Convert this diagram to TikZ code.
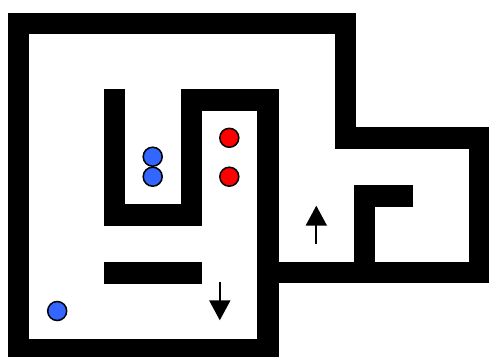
\documentclass[tikz,border=0pt]{standalone}
\usetikzlibrary{arrows.meta}
\definecolor{ballblue}{RGB}{51,102,255}
\definecolor{ballred}{RGB}{255,0,0}
\tikzset{
  wall/.style={fill=black,draw=none},
  ball/.style={circle,draw=black,line width=1.5pt,minimum size=19pt,inner sep=0pt},
  bluebal/.style={ball,fill=ballblue},
  redbal/.style={ball,fill=ballred},
  dirarrow/.style={line width=2pt,-{Triangle[width=21pt,length=20pt]}}
}
\begin{document}
\begin{tikzpicture}[x=1pt,y=-1pt]
\useasboundingbox (0,0) rectangle (489,356);
\clip (0,0) rectangle (489,356);
% walls
\fill[wall] (8,12.7) rectangle (29.3,360);
\fill[wall] (8,12.7) rectangle (356,34);
\fill[wall] (334.7,12.7) rectangle (356,149.3);
\fill[wall] (334.7,127.3) rectangle (492,149.3);
\fill[wall] (469.3,127.3) rectangle (492,283.3);
\fill[wall] (257.3,262.3) rectangle (492,283.3);
\fill[wall] (257.3,89.3) rectangle (279.3,360);
\fill[wall] (8,339.3) rectangle (279.3,360);
\fill[wall] (180.7,89.3) rectangle (279.3,111);
\fill[wall] (180.7,89.3) rectangle (202,226);
\fill[wall] (104.3,89.3) rectangle (125.3,226);
\fill[wall] (104.3,204.3) rectangle (202,226);
\fill[wall] (104.3,262.3) rectangle (202,283.7);
\fill[wall] (353.7,185.3) rectangle (375.3,262.3);
\fill[wall] (353.7,185.3) rectangle (413.3,206.7);
% balls
\node[bluebal] (b1) at (152.7,156.7) {};
\node[bluebal] (b2) at (152.7,176.7) {};
\node[bluebal] (b3) at (57.2,311) {};
\node[redbal] (r1) at (229.3,137.8) {};
\node[redbal] (r2) at (229.3,176.7) {};
% arrows
\coordinate (upS) at (316.3,244.3);
\coordinate (upE) at (316.3,205.7);
\draw[dirarrow] (upS) -- (upE);
\coordinate (dnS) at (219.8,281.7);
\coordinate (dnE) at (219.8,320.3);
\draw[dirarrow] (dnS) -- (dnE);
\end{tikzpicture}
\end{document}
